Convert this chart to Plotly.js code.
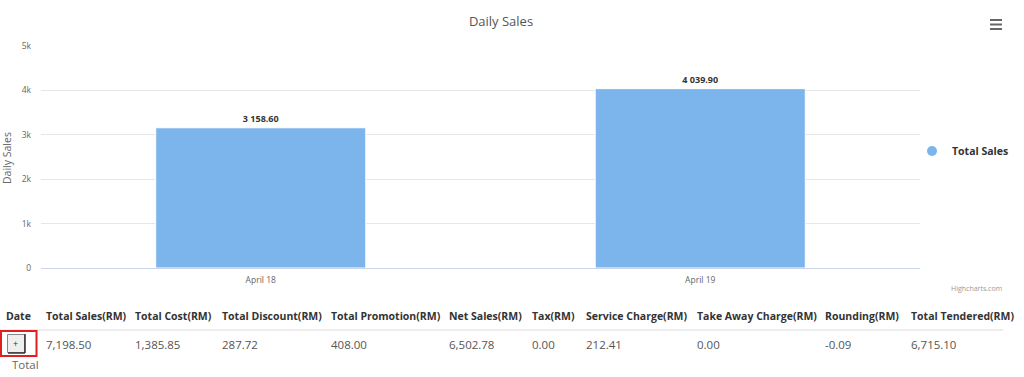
<!DOCTYPE html>
<html>
<head>
<meta charset="utf-8">
<script src="https://cdn.plot.ly/plotly-3.0.1.min.js"></script>
<style>
  html, body { margin: 0; padding: 0; background: #fff; }
  #chart { width: 1024px; height: 377px; }
</style>
</head>
<body>
<div id="chart"></div>
<script>
// ---- data ----
var categories = ['April 18', 'April 19'];
var totalSales = [3158.60, 4039.90];
var seriesName = 'Total Sales';
var chartTitle = 'Daily Sales';
var yAxisTitle = 'Daily Sales';
var tableHeaders = ['Date', 'Total Sales(RM)', 'Total Cost(RM)', 'Total Discount(RM)', 'Total Promotion(RM)',
  'Net Sales(RM)', 'Tax(RM)', 'Service Charge(RM)', 'Take Away Charge(RM)', 'Rounding(RM)', 'Total Tendered(RM)'];
var tableValues = ['', '7,198.50', '1,385.85', '287.72', '408.00', '6,502.78', '0.00', '212.41', '0.00', '-0.09', '6,715.10'];
var totalLabel = 'Total';

// ---- layout helpers (pixel -> paper) ----
var W = 1024, H = 377;
var L = 41, R = 920, T = 46, B = 268;
function px(x) { return (x - L) / (R - L); }
function py(y) { return (B - y) / (B - T); }
var colX = [4, 44, 133, 220, 329, 447, 530, 584, 695, 823, 909];
var FONT = '"Open Sans", "Noto Sans", sans-serif';

var annotations = [];
var shapes = [];

// y axis title
annotations.push({ xref: 'paper', yref: 'paper', x: px(7), y: py(158), text: yAxisTitle, textangle: -90,
  showarrow: false, xanchor: 'center', yanchor: 'middle', font: { family: FONT, size: 10.5, color: '#666' } });

// credit
annotations.push({ xref: 'paper', yref: 'paper', x: px(1004), y: py(288), text: 'Highcharts.com',
  showarrow: false, xanchor: 'right', yanchor: 'middle', font: { family: FONT, size: 7, color: '#999' } });

// table header + values
for (var i = 0; i < tableHeaders.length; i++) {
  annotations.push({ xref: 'paper', yref: 'paper', x: px(colX[i]), y: py(316), text: '<b>' + tableHeaders[i] + '</b>',
    showarrow: false, xanchor: 'left', yanchor: 'middle', font: { family: FONT, size: 10.5, color: '#333' } });
  if (tableValues[i] !== '') {
    annotations.push({ xref: 'paper', yref: 'paper', x: px(colX[i]), y: py(344), text: tableValues[i],
      showarrow: false, xanchor: 'left', yanchor: 'middle', font: { family: FONT, size: 11.5, color: '#555' } });
  }
}
annotations.push({ xref: 'paper', yref: 'paper', x: px(15.5), y: py(343.5), text: '+',
  showarrow: false, xanchor: 'center', yanchor: 'middle', font: { family: FONT, size: 9, color: '#333' } });
annotations.push({ xref: 'paper', yref: 'paper', x: px(10), y: py(364), text: totalLabel,
  showarrow: false, xanchor: 'left', yanchor: 'middle', font: { family: FONT, size: 11.5, color: '#666' } });

// header separator
shapes.push({ type: 'line', xref: 'paper', yref: 'paper', x0: px(0), x1: px(1003), y0: py(330), y1: py(330),
  line: { color: '#eeeeee', width: 2 } });
// button
shapes.push({ type: 'rect', xref: 'paper', yref: 'paper', x0: px(7.5), x1: px(24.5), y0: py(352.5), y1: py(334.5),
  fillcolor: '#efefef', line: { color: '#888', width: 1 } });
shapes.push({ type: 'line', xref: 'paper', yref: 'paper', x0: px(8), x1: px(25), y0: py(353), y1: py(353),
  line: { color: '#333', width: 1.5 } });
shapes.push({ type: 'line', xref: 'paper', yref: 'paper', x0: px(25), x1: px(25), y0: py(334), y1: py(353),
  line: { color: '#333', width: 1.5 } });
// red highlight box
shapes.push({ type: 'rect', xref: 'paper', yref: 'paper', x0: px(1), x1: px(36.5), y0: py(356), y1: py(331),
  line: { color: '#e02020', width: 2 } });
// menu icon
[20, 24.5, 29].forEach(function (yy) {
  shapes.push({ type: 'line', xref: 'paper', yref: 'paper', x0: px(990), x1: px(1002), y0: py(yy), y1: py(yy),
    line: { color: '#666', width: 2 } });
});

var traces = [
  {
    type: 'bar', x: categories, y: totalSales, name: seriesName, showlegend: false,
    width: 0.478,
    marker: { color: '#7cb5ec', line: { color: '#ffffff', width: 1 } },
    texttemplate: '<b>%{y:,.2f}</b>', textposition: 'outside', cliponaxis: false,
    textfont: { family: FONT, size: 9, color: '#333' },
    hoverinfo: 'x+y'
  },
  {
    type: 'scatter', mode: 'markers', x: [null], y: [null], name: seriesName, showlegend: true,
    marker: { symbol: 'circle', size: 10, color: '#7cb5ec' }
  }
];

var layout = {
  width: W, height: H,
  margin: { l: L, r: W - R, t: T, b: H - B, pad: 0, autoexpand: false },
  paper_bgcolor: '#fff', plot_bgcolor: '#fff',
  separators: '. ',
  font: { family: FONT, color: '#666' },
  title: { text: chartTitle, xref: 'container', yref: 'container', x: 501 / W, y: 1 - 21 / H,
    xanchor: 'center', yanchor: 'middle', font: { family: FONT, size: 13, color: '#555' } },
  xaxis: { type: 'category', range: [-0.5, 1.5], showline: true, linecolor: '#ccd6eb', linewidth: 1,
    showgrid: false, zeroline: false, ticks: '', tickfont: { size: 8.5, color: '#666' }, ticklabelstandoff: 4 },
  yaxis: { range: [0, 5000], dtick: 1000, tickformat: '~s', showgrid: true, gridcolor: '#e6e6e6',
    zeroline: false, showline: false, ticks: '', tickfont: { size: 8.5, color: '#666' }, ticklabelstandoff: 9 },
  showlegend: true,
  legend: { xref: 'container', yref: 'container', x: 912 / W, xanchor: 'left', y: 1 - 151 / H, yanchor: 'middle',
    bgcolor: 'rgba(0,0,0,0)', borderwidth: 0,
    font: { family: FONT, size: 10.5, color: '#333', weight: 'bold' }, itemwidth: 30 },
  bargap: 0.52,
  annotations: annotations,
  shapes: shapes
};

Plotly.newPlot('chart', traces, layout, { displayModeBar: false, responsive: false });
</script>
</body>
</html>
